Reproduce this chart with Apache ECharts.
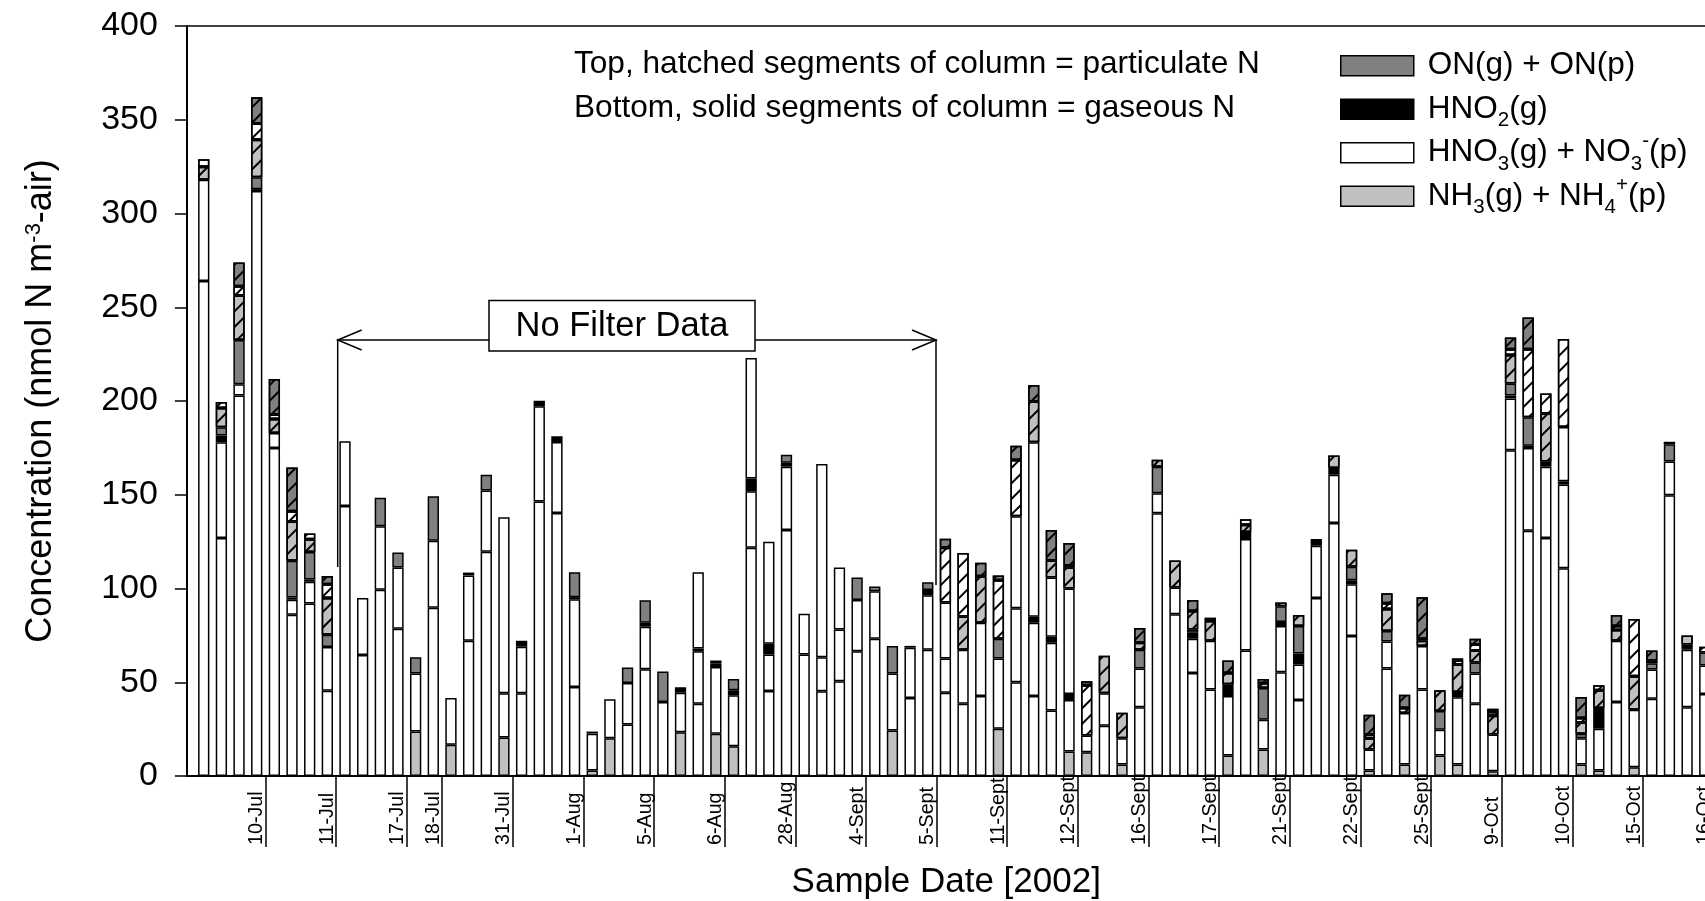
<!DOCTYPE html>
<html>
<head>
<meta charset="utf-8">
<script src="https://cdn.jsdelivr.net/npm/echarts@6.0.0/dist/echarts.min.js"></script>
<style>
  html, body { margin: 0; padding: 0; background: #fff; overflow: hidden; }
  #chart { width: 1705px; height: 901px; }
</style>
</head>
<body>
<div id="chart"></div>
<script>
// fechas de muestreo: una etiqueta por grupo y cuantas columnas tiene cada grupo
var groupLabels = ['10-Jul', '11-Jul', '17-Jul', '18-Jul', '31-Jul', '1-Aug', '5-Aug', '6-Aug',
  '28-Aug', '4-Sept', '5-Sept', '11-Sept', '12-Sept', '16-Sept', '17-Sept', '21-Sept',
  '22-Sept', '25-Sept', '9-Oct', '10-Oct', '15-Oct', '16-Oct'];
var groupSizes = [4, 4, 4, 2, 4, 4, 4, 4, 4, 4, 4, 4, 4, 4, 4, 4, 4, 4, 4, 4, 4, 4];

var yTicks = [0, 50, 100, 150, 200, 250, 300, 350, 400];

// segmentos gaseosos (solidos), de abajo hacia arriba
var nh3Gas = [
  0, 0, 0, 0, 0, 0, 0, 0, 0, 0,
  0, 0, 23.7, 0, 16.7, 0, 0, 20.5, 0, 0,
  0, 0, 3, 20.1, 0, 0, 0, 23.3, 0, 22.6,
  15.9, 0, 0, 0, 0, 0, 0, 0, 0, 24.3,
  0, 0, 0, 0, 0, 25.2, 0, 0, 0, 13.1,
  12.7, 0, 6.2, 0, 0, 0, 0, 0, 11, 0,
  14.2, 0, 0, 0, 0, 0, 3, 0, 6.2, 0,
  11, 6.2, 0, 2.6, 0, 0, 0, 0, 6.2, 3,
  0, 4.7, 0, 0, 0, 0];
var hno3Gas = [
  264, 127, 203, 312, 175, 86, 92, 45.5, 144, 64.6,
  99.4, 78.5, 31, 89.7, 24.9, 72.2, 119.6, 23.7, 44.2, 146.4,
  140.3, 47.5, 19.6, 20.9, 27.5, 57, 39.5, 21.1, 38.5, 35.5,
  27.2, 121.8, 45.4, 131.2, 64.8, 45.2, 50.5, 66.5, 73.2, 30.4,
  41.6, 67.4, 44.4, 38.5, 42.7, 37.5, 50, 42.7, 34.9, 27.4,
  8.9, 26.8, 13.9, 36.7, 140.1, 86.3, 54.9, 46.2, 31.7, 66.9,
  15.8, 55.3, 40.5, 95, 135, 74.7, 11.2, 57.4, 27.4, 46.2,
  13.7, 35.8, 38.5, 19.6, 173.8, 130.8, 127, 110.8, 13.9, 22.2,
  39.5, 30.6, 41.2, 149.8, 36.7, 43.7];
var hno3GasB = [
  54, 51, 6, 0, 8, 8, 11.6, 23.3, 34.5, 30.4,
  33.8, 32.7, 0, 35.8, 0, 34.8, 32.7, 93.8, 24.8, 50.8,
  37.9, 46.8, 0, 0, 22.1, 22.6, 0, 0, 28, 0,
  0, 30.1, 19.4, 33.8, 21.7, 18.1, 27.6, 27.4, 25.4, 0,
  26.8, 29, 18.3, 28.8, 39, 0, 39.5, 39, 36.2, 0,
  0, 17.4, 0, 20.7, 10.7, 14.3, 18.3, 26, 0, 59.5,
  0, 24.7, 19, 27.8, 25.7, 27.6, 0, 14.4, 0, 23.2,
  0, 0, 16.2, 0, 27.6, 44.1, 38, 44.7, 0, 0,
  32.7, 0, 15.6, 17.9, 30.7, 15.2];
var hno2Gas = [
  0, 3.6, 0, 1, 0, 1.2, 1.2, 0, 0, 0,
  0, 0, 0, 0, 0, 1.5, 0, 0, 3.2, 3,
  3, 1.1, 1.1, 0, 0, 2.1, 0, 2.9, 1.5, 2.1,
  2.7, 6.8, 5.7, 2.1, 0, 0, 0, 0, 0, 0,
  1, 2.8, 0, 0, 0, 0, 0, 3.2, 3.2, 3.2,
  0, 0, 0, 0, 0, 0, 3.2, 0, 6.3, 3.8,
  0, 2.1, 5.9, 3.6, 3.6, 2.1, 0, 0, 0, 0,
  0, 2.8, 0, 0, 1.5, 1.3, 2.7, 1.7, 0, 11.1,
  0, 0, 0, 0, 2.7, 0];
var hno3GasC = [
  0, 0, 0, 0, 0, 0, 0, 0, 0, 0,
  0, 0, 0, 0, 0, 0, 0, 0, 0, 0,
  0, 0, 0, 0, 0, 0, 0, 0, 40.7, 0,
  0, 64.3, 54.4, 0, 0, 103.1, 33.1, 0, 0, 0,
  0, 0, 29.9, 0, 0, 0, 49.1, 93.1, 31.6, 56.3,
  0, 0, 0, 0, 0, 0, 0, 0, 0, 0,
  0, 0, 0, 0, 0, 0, 0, 0, 0, 0,
  0, 0, 0, 0, 0, 0, 0, 28.9, 0, 0,
  0, 0, 0, 0, 0, 0];
var onGas = [
  0, 4.4, 23.6, 6.4, 0, 19.6, 14.7, 6.6, 0, 0,
  15.2, 8, 8.6, 23.7, 0, 0, 8.4, 0, 0, 0,
  0, 13.3, 0, 0, 8.3, 12, 16.2, 0, 0, 1.4,
  5.9, 0, 0, 4.2, 0, 0, 0, 12, 2.5, 14.7,
  0, 4.2, 0, 0, 0, 10.5, 0, 0, 0, 0,
  0, 0, 0, 9.9, 14.2, 0, 1.7, 0, 0, 0,
  16.9, 8.4, 14.6, 0, 0, 7.2, 0, 5.6, 0, 0,
  10, 0, 5.9, 0, 6.4, 15.2, 0, 0, 2.5, 0,
  0, 0, 3.4, 9.3, 0, 7];

// segmentos particulados (rayados)
var nh4Part = [
  7, 10.3, 23.7, 20, 7.4, 21, 6.8, 19.6, 0, 0,
  0, 0, 0, 0, 0, 0, 0, 0, 0, 0,
  0, 0, 0, 0, 0, 0, 0, 0, 0, 0,
  0, 0, 0, 0, 0, 0, 0, 0, 0, 0,
  0, 0, 0, 17.8, 24.9, 0, 0, 21.8, 9.1, 11.2,
  0, 20, 13.7, 3.8, 3.7, 14.4, 9.9, 10.5, 5.9, 3.8,
  2.7, 0, 5.9, 0, 6.6, 9.1, 5.9, 11.7, 0, 2.8,
  11.1, 14.7, 6.3, 9.9, 15.3, 0, 25.7, 0, 5.9, 9.5,
  5.7, 17.9, 0, 0, 4.8, 0];
var no3Part = [
  4, 3.2, 4.9, 8.6, 2.4, 5.4, 3, 7.3, 0, 0,
  0, 0, 0, 0, 0, 0, 0, 0, 0, 0,
  0, 0, 0, 0, 0, 0, 0, 0, 0, 0,
  0, 0, 0, 0, 0, 0, 0, 0, 0, 0,
  0, 0, 29.2, 33.9, 0, 31.2, 29.9, 0, 0, 1.1,
  26.8, 0, 0, 0, 0, 0, 0, 0, 0, 2.9,
  2.1, 2.1, 0, 0, 0, 0, 2.1, 3.1, 2.7, 1,
  0, 2.1, 3.2, 2.1, 3, 36.2, 10.6, 47, 2.5, 2.6,
  2.1, 30.6, 1.4, 1.2, 0, 3.1];
var onPart = [
  0, 0, 12.7, 14, 19, 23.3, 0, 4.4, 0, 0,
  0, 0, 0, 0, 0, 0, 0, 0, 0, 0,
  0, 0, 0, 0, 0, 0, 0, 0, 0, 0,
  0, 0, 0, 0, 0, 0, 0, 0, 0, 0,
  0, 0, 4.8, 0, 7.1, 2.6, 7.7, 8.8, 16.2, 12,
  2.1, 0, 0, 7.8, 0, 0, 5.9, 1.7, 6.7, 0,
  0, 0, 0, 0, 0, 0, 10.5, 5.3, 7, 22.2,
  0, 1.1, 3.1, 1.7, 6.3, 16.9, 0, 0, 11.2, 0,
  5.9, 0, 5.3, 0, 0, 0];

// categorias: una por columna, con la fecha de su grupo
var categories = [];
var groupStarts = {};
var groupEnds = {};
groupLabels.forEach(function (label, g) {
  groupStarts[categories.length] = true;
  for (var k = 0; k < groupSizes[g]; k++) categories.push(label);
  groupEnds[categories.length - 1] = true;
});

var FONT = "'Liberation Sans', Arial, sans-serif";
var LIGHT = '#c0c0c0';
var DARK = '#808080';

var hatch = {
  symbol: 'rect',
  symbolSize: 1,
  color: '#000',
  dashArrayX: [1, 0],
  dashArrayY: [1.6, 8.4],
  rotation: -Math.PI / 4
};

function capa(name, values, color, rayado) {
  var itemStyle = { color: color, borderColor: '#000', borderWidth: 1.5 };
  if (rayado) itemStyle.decal = hatch;
  return {
    name: name,
    type: 'bar',
    stack: 'N',
    barWidth: '64%',
    data: values.map(function (v) { return v > 0 ? v : '-'; }),
    itemStyle: itemStyle,
    emphasis: { disabled: true }
  };
}

var legendText = {
  'ON(g) + ON(p)': 'ON(g) + ON(p)',
  'HNO2(g)': 'HNO{sub|2}(g)',
  'HNO3(g) + NO3-(p)': 'HNO{sub|3}(g) + NO{sub|3}{sup|-}(p)',
  'NH3(g) + NH4+(p)': 'NH{sub|3}(g) + NH{sub|4}{sup|+}(p)'
};

var myChart = echarts.init(document.getElementById('chart'));

var option = {
  animation: false,
  backgroundColor: '#fff',
  grid: { left: 194.9, right: -8.6, top: 26, bottom: 125, containLabel: false, outerBoundsMode: 'none' },
  legend: {
    data: ['ON(g) + ON(p)', 'HNO2(g)', 'HNO3(g) + NO3-(p)', 'NH3(g) + NH4+(p)'],
    orient: 'vertical',
    left: 1340,
    top: 44,
    padding: 0,
    itemWidth: 73,
    itemHeight: 20,
    itemGap: 0,
    icon: 'rect',
    selectedMode: false,
    itemStyle: { borderColor: '#000', borderWidth: 1.5 },
    formatter: function (name) { return legendText[name]; },
    textStyle: {
      fontFamily: FONT, fontSize: 31.5, color: '#000', lineHeight: 43.5,
      padding: [0, 0, 0, 9],
      rich: {
        sub: { fontFamily: FONT, fontSize: 20.5, lineHeight: 24, verticalAlign: 'bottom', color: '#000' },
        sup: { fontFamily: FONT, fontSize: 20.5, lineHeight: 24, verticalAlign: 'top', color: '#000' }
      }
    }
  },
  xAxis: {
    type: 'category',
    data: categories,
    boundaryGap: true,
    z: 5,
    name: 'Sample Date [2002]',
    nameLocation: 'middle',
    nameGap: 89,
    nameMoveOverlap: false,
    nameTextStyle: { fontFamily: FONT, fontSize: 35, color: '#000', padding: [0, 16, 0, 0] },
    axisLine: { show: true, onZero: false, lineStyle: { color: '#000', width: 2 } },
    axisTick: {
      show: true,
      alignWithLabel: false,
      length: 71,
      interval: function (i) { return i > 0 && groupStarts[i] === true; },
      lineStyle: { color: '#000', width: 1.5 }
    },
    axisLabel: {
      show: true,
      rotate: 90,
      align: 'left',
      margin: 69,
      padding: [0, 0, 14, 0],
      fontFamily: FONT,
      fontSize: 19.7,
      color: '#000',
      interval: function (i) { return groupEnds[i] === true; }
    },
    splitLine: { show: false }
  },
  yAxis: {
    type: 'value',
    min: yTicks[0],
    max: yTicks[yTicks.length - 1],
    interval: yTicks[1] - yTicks[0],
    offset: 8,
    name: 'Concentration (nmol N m{sup|-3}-air)',
    nameLocation: 'middle',
    nameGap: 128,
    nameMoveOverlap: false,
    nameTextStyle: {
      fontFamily: FONT, fontSize: 36, color: '#000',
      rich: { sup: { fontFamily: FONT, fontSize: 22, verticalAlign: 'top', lineHeight: 23, color: '#000' } }
    },
    axisLine: { show: true, lineStyle: { color: '#000', width: 2 } },
    axisTick: { show: true, inside: false, length: 12, lineStyle: { color: '#000', width: 1.5 } },
    axisLabel: { fontFamily: FONT, fontSize: 34, color: '#000', margin: 29 },
    splitLine: { show: false }
  },
  series: [
    capa('NH3(g) + NH4+(p)', nh3Gas, LIGHT, false),
    capa('HNO3(g) + NO3-(p)', hno3Gas, '#fff', false),
    capa('HNO3(g) b', hno3GasB, '#fff', false),
    capa('HNO2(g)', hno2Gas, '#000', false),
    capa('HNO3(g) c', hno3GasC, '#fff', false),
    capa('ON(g) + ON(p)', onGas, DARK, false),
    capa('NH4+(p)', nh4Part, LIGHT, true),
    capa('NO3-(p)', no3Part, '#fff', true),
    capa('ON(p)', onPart, DARK, true)
  ],
  graphic: [
    // marco superior y tramo del eje x hasta el eje y
    { type: 'line', silent: true, shape: { x1: 187, y1: 26, x2: 1705, y2: 26 }, style: { stroke: '#000', lineWidth: 1.5 } },
    { type: 'line', silent: true, shape: { x1: 186, y1: 776, x2: 196, y2: 776 }, style: { stroke: '#000', lineWidth: 2 } },
    // notas
    { type: 'text', silent: true, x: 574, y: 64, style: { text: 'Top, hatched segments of column = particulate N', font: '31.6px ' + FONT, fill: '#000', verticalAlign: 'middle' } },
    { type: 'text', silent: true, x: 574, y: 108, style: { text: 'Bottom, solid segments of column = gaseous N', font: '31.6px ' + FONT, fill: '#000', verticalAlign: 'middle' } },
    // "No Filter Data" con flechas
    { type: 'polyline', silent: true, shape: { points: [[337.7, 567], [337.7, 340], [489, 340]] }, style: { stroke: '#000', lineWidth: 1.5, fill: null } },
    { type: 'polyline', silent: true, shape: { points: [[361.7, 330], [337.7, 340], [361.7, 350]] }, style: { stroke: '#000', lineWidth: 1.5, fill: null } },
    { type: 'polyline', silent: true, shape: { points: [[755, 340], [936, 340], [936, 585]] }, style: { stroke: '#000', lineWidth: 1.5, fill: null } },
    { type: 'polyline', silent: true, shape: { points: [[912, 330], [936, 340], [912, 350]] }, style: { stroke: '#000', lineWidth: 1.5, fill: null } },
    { type: 'rect', silent: true, shape: { x: 489, y: 300.5, width: 266, height: 50.5 }, style: { fill: '#fff', stroke: '#000', lineWidth: 1.5 } },
    { type: 'text', silent: true, x: 622, y: 326, style: { text: 'No Filter Data', font: '34.5px ' + FONT, fill: '#000', align: 'center', verticalAlign: 'middle' } }
  ]
};

myChart.setOption(option);
</script>
</body>
</html>
